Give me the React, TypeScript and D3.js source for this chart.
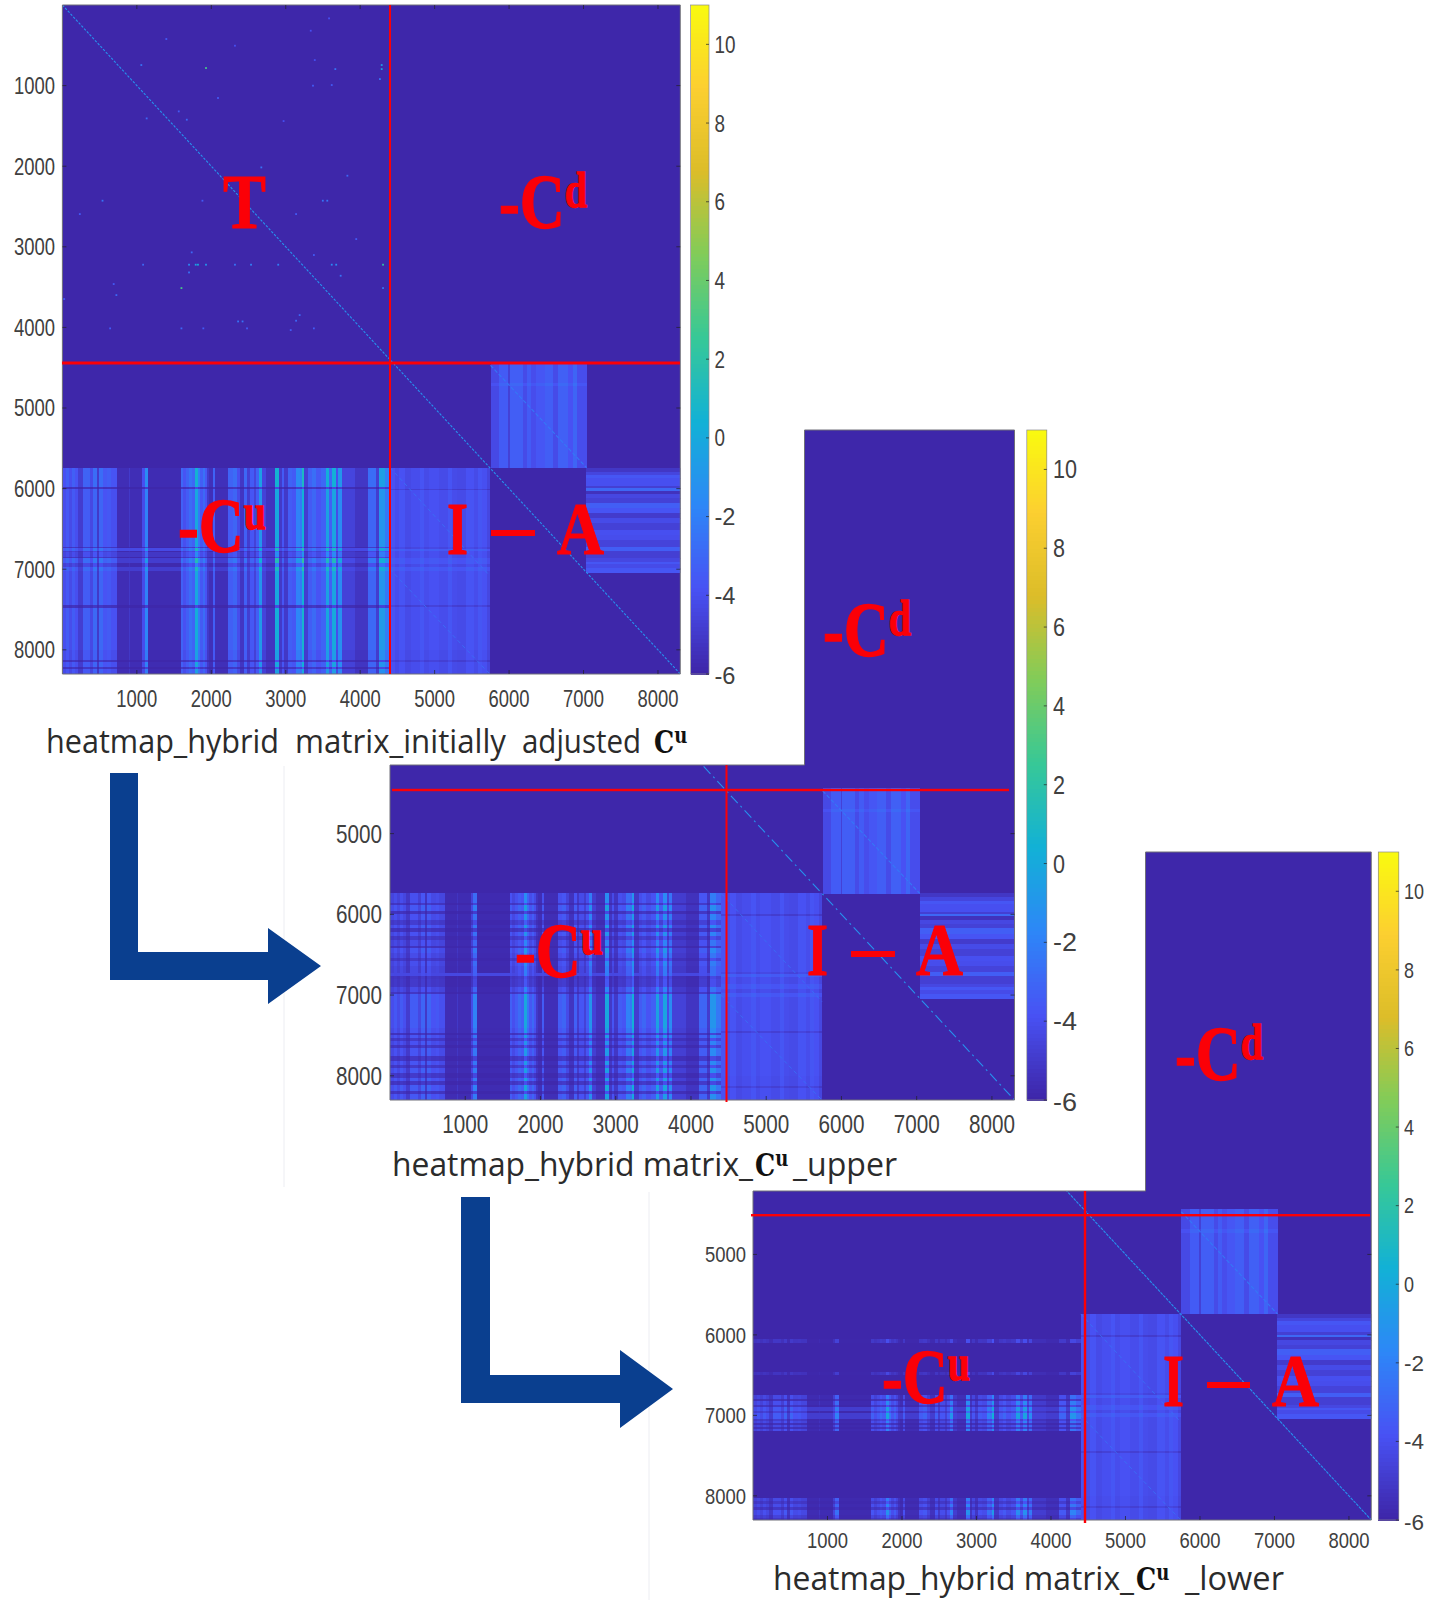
import React from "react";
import * as d3 from "d3";

// ---------- values ----------
const axisTicks = [1000, 2000, 3000, 4000, 5000, 6000, 7000, 8000];
const colorTicks = [10, 8, 6, 4, 2, 0, -2, -4, -6];
const matrixSize = 8300;
const colorDomain = [-6, 11];
const backgroundValue = -5.95;

const parulaStops = ["#3e26a8", "#4852f4", "#2d87f7", "#12b1d6", "#37c897", "#81cc59", "#dcbd29", "#fccf30", "#f9fb0e"];

// -C^u block: column profile
const cuColEdges = [0,50,95,130,175,210,270,375,410,460,495,540,605,650,730,890,905,1075,1105,1150,1590,1625,1665,1700,1735,1780,1825,1850,1890,1915,1940,1970,2020,2045,2230,2285,2340,2380,2440,2485,2515,2575,2605,2640,2685,2740,2855,2910,2945,2980,3025,3080,3140,3187,3215,3241,3304,3355,3402,3469,3536,3581,3625,3679,3706,3750,3930,4108,4207,4251,4331,4400];
const cuColValues = [-3.9,-3.4,-4,-3.3,-3.8,-4.8,-3.2,-4.2,-2.8,-5,-2.8,-3.6,-3.4,-3.8,-5.6,-5,-5.6,-4,-1.5,-5.7,-3,-3.8,-3.2,-2.5,-3,0.5,-2,-3.4,-2.6,-3.6,-5,-5.5,-3.2,-5.5,-3.2,-2.8,-4,-5.2,-3,-4.8,-3.5,-4.5,-3.2,-0.5,-4.5,-5.3,0.5,-5,-3.5,-5,-3.2,-3.5,-1.5,-2,1,-4.8,-3.3,-2.7,-3.6,-3,0.2,-3,0.3,-4,-1,-4.5,-5.2,-2.8,-4.8,-0.5,-2];

// -C^u block: row profiles of the three matrices
const initialRowEdges = [5740,5976,6005,6720,6741,6774,6790,6845,6865,6927,6968,7022,7444,7477,8002,8127,8147,8210,8238,8300];
const initialRowGains = [1,.25,.9,.3,1.1,.5,.7,.3,1.15,.6,1.1,.9,.25,.95,.85,.3,.9,.3,.85];
const initialRowFloors = [-5.95,-5.95,-5.95,-5.95,-4.3,-5.95,-5.2,-5.95,-4.9,-5.95,-4.9,-5.95,-5.95,-5.95,-5.95,-5.95,-5.95,-5.95,-5.95];

const upperRowEdges = [5740,5857,5886,5960,6002,6064,6126,6167,6217,6270,6324,6394,6423,6477,6539,6580,6642,6725,6766,6795,6902,6960,6993,7406,7468,7489,7530,7571,7621,7662,7757,7811,7869,7902,7964,8026,8067,8108,8191,8220,8300];
const upperRowGains = [.7,.3,.85,.25,.75,.4,.8,.25,.75,.35,.65,.25,.8,.65,.35,.7,.6,.6,.3,.35,.65,.3,.9,.8,.25,.8,.35,.75,.3,.8,.3,.8,.35,.85,.35,.85,.3,.9,.3,.85];
const upperRowFloors = upperRowGains.map((_, i) => (i === 17 ? -4.4 : -5.95));

const lowerRowEdges = [5740,6056,6098,6459,6500,6749,6791,6824,6866,6899,6940,6969,7040,7065,7094,7123,7148,7164,7198,8027,8069,8102,8144,8173,8235,8277,8300];
const lowerRowGains = [0,.3,0,.25,0,.6,.2,.7,.3,.85,.5,.9,.4,.65,.2,.6,.2,.65,0,.6,.35,.65,.3,.75,.5,.3];
const lowerRowFloors = lowerRowGains.map((g) => (g >= 0.85 ? -4.9 : -5.95));

// I block (lower middle)
const iColEdges = [4400,4470,4520,4600,4680,4800,4860,4920,5060,5180,5240,5300,5420,5530,5580,5640,5700,5740];
const iColValues = [-3.9,-4.2,-3.9,-4.3,-4.1,-3.8,-4.2,-4,-4.2,-3.8,-4.2,-4.3,-3.9,-4.2,-3.8,-4,-4.5];
const iRowEdges = [5740,6000,6020,6720,6745,6780,6865,6930,6970,7025,7440,7470,8000,8130,8150,8300];
const iRowOffsets = [0,-.7,.1,-.3,.6,0,.4,-.1,.5,.1,-.6,.1,0,-.6,0];

// upper block above I - A
const uColEdges = [5752,5865,5992,6010,6182,6237,6296,6364,6477,6590,6658,6794,6862,6916,7040];
const uColValues = [-4.3,-3.5,-4.7,-3.4,-4.2,-3.5,-4.1,-3.7,-3.4,-4.2,-3.3,-3.9,-3.1,-4.1];
const uRowEdges = [4430,4690,4730,5740];
const uRowOffsets = [0,.35,0];

// A block (lower right)
const aRowEdges = [5740,5790,5831,5872,5967,5996,6025,6067,6120,6174,6245,6307,6369,6431,6513,6575,6637,6720,6770,6865,6906,6935,6989,7040];
const aRowValues = [-5.2,-4.5,-3.7,-4,-4.8,-3,-5.4,-4.4,-4.7,-3.4,-3.8,-5,-4.2,-4.7,-4,-4.1,-4.6,-3.4,-4.8,-4.4,-3.7,-4.2,-3.7];

// diagonals: [x0, y0, x1, y1, value]
const mainDiagonal = [0, 0, 8300, 8300, -1.2];
const upperDiagonal = [5750, 4470, 7040, 5740, -2.4];
const iDiagonalA = [4400, 5740, 5740, 7080, -2.8];
const iDiagonalB = [4400, 7000, 5740, 8300, -2.8];

// sparse entries of the T block in the first matrix
const spotX = [1060,1929,1396,2318,3390,3582,3336,4289,4289,4265,3366,3618,3666,2090,1563,1132,1671,2971,2672,3828,539,1881,3498,3558,234,3139,3947,3378,1737,1084,1701,1791,1821,1929,2318,2534,2899,3618,3678,4307,1701,3738,689,1599,725,4307,24,2360,2420,3187,3139,641,1599,1893,3067,3378,2480];
const spotY = [745,782,422,505,683,166,319,745,795,919,1001,993,795,1154,1320,1407,1423,1440,2015,2118,2428,2428,2428,2428,2594,2594,2904,3102,3069,3222,3222,3222,3222,3222,3222,3222,3222,3222,3222,3222,3318,3359,3462,3512,3599,3512,3648,3926,3926,3847,3917,4012,4012,4012,4033,4012,4012];
const spotV = [-2.5,3,-3.5,-4,-4,-4,-4,-.5,-.5,-2.5,-3.5,-3.5,-2.5,-3.5,-3.5,-3,-3,-4,-2.5,-3,-2.5,-3.5,-2.5,-2.5,-3.5,-3.5,-3.5,-3.5,-3,-3,-1.5,-.5,0,-1,-2.5,-2,-2,-1.5,-1.5,2,-2.5,-2.5,-3.5,3,-3,-2.5,-3.5,-2.5,-2.5,-3,-3,-3.5,-3,-3.5,-3.5,-3.5,-3.5];

// ---------- drawing helpers ----------
const color = d3
  .scaleLinear<string>()
  .domain(parulaStops.map((_, i) => colorDomain[0] + ((colorDomain[1] - colorDomain[0]) * i) / (parulaStops.length - 1)))
  .range(parulaStops)
  .interpolate(d3.interpolateRgb);

const serif = "'Liberation Serif', serif";
const red = "#fb0007";

type Bands = { edges: number[]; values: number[] };

function Grid({ x, y, cols, rows, value }: { x: any; y: any; cols: Bands; rows: Bands; value: (c: number, r: number, i: number) => number }) {
  const cells: any[] = [];
  cols.values.forEach((cv, i) =>
    rows.values.forEach((rv, j) => {
      cells.push(
        <rect
          key={i + "-" + j}
          x={x(cols.edges[i])}
          y={y(rows.edges[j])}
          width={x(cols.edges[i + 1]) - x(cols.edges[i]) + 0.4}
          height={y(rows.edges[j + 1]) - y(rows.edges[j]) + 0.4}
          fill={color(value(cv, rv, j))}
        />
      );
    })
  );
  return <g>{cells}</g>;
}

function Fit({ x, y, w, size, children, anchor = "start", family = "'Liberation Sans', sans-serif", fill = "#404040", weight = "normal", stroke }: any) {
  const left = anchor === "middle" ? x - w / 2 : anchor === "end" ? x - w : x;
  return (
    <text x={left} y={y} fontSize={size} fontFamily={family} fontWeight={weight} fill={fill} stroke={stroke ? fill : undefined} strokeWidth={stroke} textLength={w} lengthAdjust="spacingAndGlyphs">
      {children}
    </text>
  );
}

function Diagonal({ x, y, d, width, dash }: any) {
  const line = d3.line();
  return (
    <path
      d={line([[x(d[0]), y(d[1])], [x(d[2]), y(d[3])]]) as string}
      stroke={color(d[4])}
      strokeWidth={width}
      strokeDasharray={dash}
      fill="none"
    />
  );
}

function RedMinusC({ x, base, sup }: { x: number; base: number; sup: string }) {
  return (
    <text transform={`translate(${x},${base}) scale(0.8,1)`} fontFamily={serif} fontWeight="bold" fill={red} stroke={red} strokeWidth={1.3}>
      <tspan fontSize={78}>-C</tspan>
      <tspan fontSize={50} dy={sup === "d" ? -21 : -23}>{sup}</tspan>
    </text>
  );
}

function Matrix({ id, box, clipCorner, rows, spots, dash, yTicks, xLabelY, yLabelX, bar, barLabelX, barSize, labelW, labelSize, digitW }: any) {
  const x = d3.scaleLinear().domain([0, matrixSize]).range([box.x0, box.x1]);
  const y = d3.scaleLinear().domain([0, matrixSize]).range([box.y0, box.y1]);
  const c = d3.scaleLinear().domain(colorDomain).range([box.y1, box.y0]);
  const shape = clipCorner
    ? `M${clipCorner.x},${box.y0}H${box.x1}V${box.y1}H${box.x0}V${clipCorner.y}H${clipCorner.x}Z`
    : `M${box.x0},${box.y0}H${box.x1}V${box.y1}H${box.x0}Z`;
  const barRows = d3.range(colorDomain[0], colorDomain[1], 0.1);
  return (
    <g>
      <defs>
        <clipPath id={id}>
          <path d={shape} />
        </clipPath>
      </defs>
      <g clipPath={`url(#${id})`} shapeRendering="crispEdges">
        <rect x={box.x0} y={box.y0} width={box.x1 - box.x0} height={box.y1 - box.y0} fill={color(backgroundValue)} />
        <Grid
          x={x}
          y={y}
          cols={{ edges: cuColEdges, values: cuColValues }}
          rows={rows}
          value={(cv, g, j) => Math.max(rows.floors[j], Math.max(backgroundValue, -6 + (cv + 6) * g))}
        />
        <Grid x={x} y={y} cols={{ edges: iColEdges, values: iColValues }} rows={{ edges: iRowEdges, values: iRowOffsets }} value={(cv, o) => cv + o} />
        <Grid x={x} y={y} cols={{ edges: uColEdges, values: uColValues }} rows={{ edges: uRowEdges, values: uRowOffsets }} value={(cv, o) => cv + o} />
        <Grid x={x} y={y} cols={{ edges: [7040, 8300], values: [0] }} rows={{ edges: aRowEdges, values: aRowValues }} value={(_, v) => v} />
      </g>
      <g clipPath={`url(#${id})`}>
        <Diagonal x={x} y={y} d={upperDiagonal} width={1.1} dash="4 2" />
        <Diagonal x={x} y={y} d={iDiagonalA} width={0.9} dash="4 3" />
        <Diagonal x={x} y={y} d={iDiagonalB} width={0.9} dash="4 3" />
        <Diagonal x={x} y={y} d={mainDiagonal} width={1.1} dash={dash} />
        {spots &&
          spotX.map((sx, i) => (
            <rect key={i} x={x(sx) - 0.9} y={y(spotY[i]) - 0.9} width={1.8} height={1.8} fill={color(spotV[i])} />
          ))}
      </g>
      {/* frame */}
      <path d={shape} fill="none" stroke="#6f6f78" strokeWidth={1} />
      {axisTicks.map((t) => (
        <g key={t}>
          <line x1={x(t)} x2={x(t)} y1={box.y1} y2={box.y1 - 4} stroke="#222" strokeWidth={0.7} />
          {!clipCorner && <line x1={x(t)} x2={x(t)} y1={box.y0} y2={box.y0 + 4} stroke="#222" strokeWidth={0.7} />}
          <Fit x={x(t)} y={xLabelY} w={labelW} size={labelSize} anchor="middle">{t}</Fit>
        </g>
      ))}
      {yTicks.map((t: number) => (
        <g key={t}>
          <line x1={box.x0} x2={box.x0 + 4} y1={y(t)} y2={y(t)} stroke="#222" strokeWidth={0.7} />
          <line x1={box.x1} x2={box.x1 - 4} y1={y(t)} y2={y(t)} stroke="#222" strokeWidth={0.7} />
          <Fit x={yLabelX} y={y(t) + labelSize * 0.36} w={labelW} size={labelSize} anchor="end">{t}</Fit>
        </g>
      ))}
      {/* colour bar */}
      <g shapeRendering="crispEdges">
        {barRows.map((v) => (
          <rect key={v} x={bar} y={c(v + 0.1)} width={barSize} height={c(v) - c(v + 0.1) + 0.6} fill={color(v)} />
        ))}
      </g>
      <rect x={bar} y={box.y0} width={barSize} height={box.y1 - box.y0} fill="none" stroke="#8a8a90" strokeWidth={0.7} />
      {colorTicks.map((t) => (
        <g key={t}>
          <line x1={bar + barSize - 3} x2={bar + barSize} y1={c(t)} y2={c(t)} stroke="#222" strokeWidth={0.7} />
          <Fit x={barLabelX} y={(t === -6 ? c(t) + 2 : c(t)) + labelSize * 0.36} w={String(t).length * digitW} size={labelSize}>{t}</Fit>
        </g>
      ))}
    </g>
  );
}

function Arrow({ x0, x1, top, inner, bottom, head, headTop, headBottom, tip }: any) {
  const mid = (inner + bottom) / 2;
  const pts: [number, number][] = [
    [x0, top], [x1, top], [x1, inner], [head, inner], [head, headTop], [tip, mid], [head, headBottom], [head, bottom], [x0, bottom],
  ];
  return <path d={(d3.line()(pts) as string) + "Z"} fill="#0a3f8f" />;
}

function RedLabels({ dash, iX, aX, base, dashY, dashX }: any) {
  return (
    <g>
      <Fit x={iX} y={base} w={21} size={74} family={serif} weight="bold" fill={red} stroke={1}>I</Fit>
      <rect x={dashX} y={dashY - 3} width={dash} height={6} fill={red} />
      <Fit x={aX} y={base} w={47} size={74} family={serif} weight="bold" fill={red} stroke={1}>A</Fit>
    </g>
  );
}

function CapC({ x, base }: any) {
  return (
    <text transform={`translate(${x},${base}) scale(0.82,1)`} fontFamily="'DejaVu Serif', serif" fontWeight="bold" fill="#111">
      <tspan fontSize={31}>C</tspan>
      <tspan fontSize={22} dy={-10}>u</tspan>
    </text>
  );
}

function Caption({ parts, base, cx }: any) {
  return (
    <g>
      {parts.map((p: any, i: number) => (
        <Fit key={i} x={p.x} y={base} w={p.w} size={32} family="'Open Sans', sans-serif" fill="#2b2b2b">{p.t}</Fit>
      ))}
      <CapC x={cx} base={base} />
    </g>
  );
}

export default function App() {
  return (
    <svg width={1429} height={1604} style={{ position: "absolute", left: 0, top: 0, background: "#fff" }}>
      <line x1={284} x2={284} y1={766} y2={1187} stroke="#ecedf2" />
      <line x1={649} x2={649} y1={1192} y2={1600} stroke="#ecedf2" />

      <Matrix
        id="m1"
        box={{ x0: 62.4, x1: 680.3, y0: 5, y1: 674 }}
        rows={{ edges: initialRowEdges, values: initialRowGains, floors: initialRowFloors }}
        spots
        dash="2.5 1.5"
        yTicks={axisTicks}
        xLabelY={707}
        yLabelX={55}
        bar={690.5}
        barSize={18.5}
        barLabelX={714.5}
        labelW={41}
        labelSize={23.5}
        digitW={10.5}
      />
      <Matrix
        id="m2"
        box={{ x0: 390, x1: 1014.5, y0: 430, y1: 1100 }}
        clipCorner={{ x: 804.5, y: 765 }}
        rows={{ edges: upperRowEdges, values: upperRowGains, floors: upperRowFloors }}
        dash="10 4 2 4"
        yTicks={axisTicks.slice(4)}
        xLabelY={1133}
        yLabelX={382}
        bar={1026.8}
        barSize={20}
        barLabelX={1053}
        labelW={46}
        labelSize={25}
        digitW={12}
      />
      <Matrix
        id="m3"
        box={{ x0: 753, x1: 1371.3, y0: 852, y1: 1520 }}
        clipCorner={{ x: 1145.5, y: 1191 }}
        rows={{ edges: lowerRowEdges, values: lowerRowGains, floors: lowerRowFloors }}
        dash="3 1"
        yTicks={axisTicks.slice(4)}
        xLabelY={1548}
        yLabelX={746}
        bar={1378.3}
        barSize={20.5}
        barLabelX={1404}
        labelW={41}
        labelSize={21.5}
        digitW={10}
      />

      {/* red partition lines */}
      <rect x={62} y={361.5} width={618} height={3} fill={red} />
      <rect x={389} y={5} width={2} height={669} fill={red} />
      <rect x={392} y={788.8} width={617} height={2.4} fill={red} />
      <rect x={725.5} y={765} width={2} height={337} fill={red} />
      <rect x={751} y={1214} width={619} height={2.4} fill={red} />
      <rect x={1083.8} y={1191} width={2.4} height={332} fill={red} />

      {/* red block labels */}
      <Fit x={223} y={228} w={43} size={78} family={serif} weight="bold" fill={red} stroke={1}>T</Fit>
      <RedMinusC x={499} base={228} sup="d" />
      <RedMinusC x={178} base={552} sup="u" />
      <RedLabels iX={447} aX={557} base={554} dashX={491} dash={44} dashY={533} />

      <RedMinusC x={823} base={656} sup="d" />
      <RedMinusC x={515} base={977} sup="u" />
      <RedLabels iX={807} aX={916} base={975} dashX={851} dash={44} dashY={954} />

      <RedMinusC x={1175} base={1080} sup="d" />
      <RedMinusC x={882} base={1403} sup="u" />
      <RedLabels iX={1163} aX={1272} base={1406} dashX={1207} dash={43} dashY={1385} />

      {/* captions */}
      <Caption
        base={753}
        cx={654}
        parts={[
          { t: "heatmap_hybrid", x: 46, w: 233 },
          { t: "matrix_initially", x: 295, w: 211 },
          { t: "adjusted", x: 522, w: 119 },
        ]}
      />
      <Caption
        base={1176}
        cx={755}
        parts={[
          { t: "heatmap_hybrid matrix_", x: 392, w: 361 },
          { t: "_upper", x: 793, w: 104 },
        ]}
      />
      <Caption
        base={1590}
        cx={1136}
        parts={[
          { t: "heatmap_hybrid matrix_", x: 773, w: 361 },
          { t: "_lower", x: 1185, w: 99 },
        ]}
      />

      {/* arrows */}
      <Arrow x0={110} x1={138} top={773} inner={952} bottom={980} head={268} headTop={928} headBottom={1004} tip={321} />
      <Arrow x0={461} x1={490} top={1197} inner={1375} bottom={1403} head={620} headTop={1350} headBottom={1428} tip={673} />
    </svg>
  );
}
